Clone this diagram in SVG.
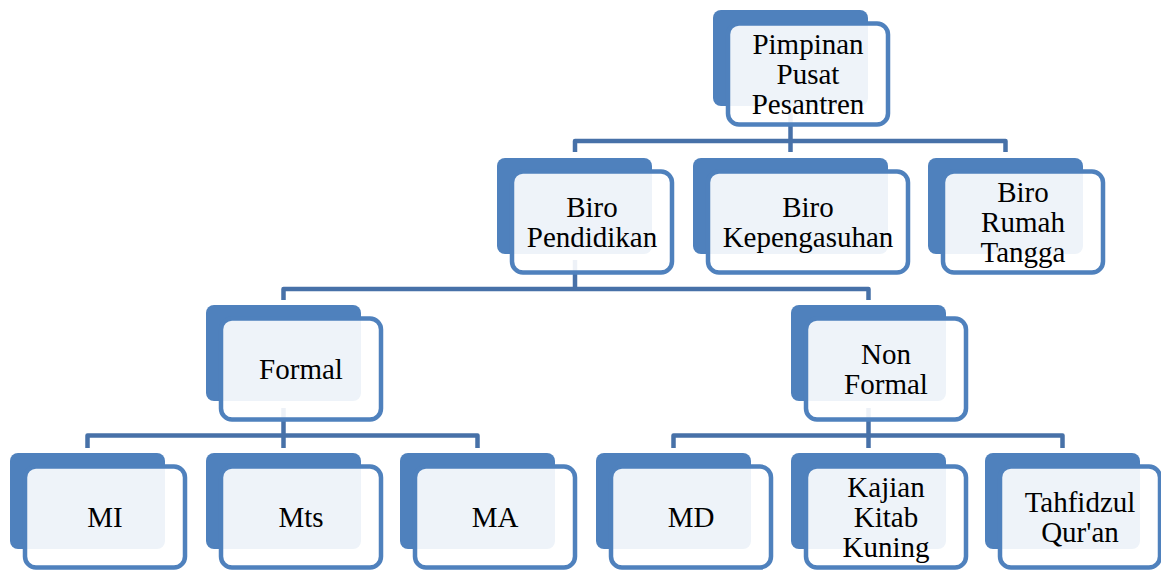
<svg xmlns="http://www.w3.org/2000/svg" width="1161" height="570" viewBox="0 0 1161 570" font-family="'Liberation Serif', 'Times New Roman', 'DejaVu Serif', serif">
<style>
.back{fill:#4F81BD;}
.front{fill:#FFFFFF;fill-opacity:0.9;stroke:#4F81BD;stroke-width:4.5;}
.conn{fill:none;stroke:#4771A8;stroke-width:4.5;stroke-linejoin:round;}
text{font-family:'Liberation Serif','Times New Roman','DejaVu Serif',serif;font-size:29px;fill:#000;text-anchor:middle;}
</style>
<rect width="1161" height="570" fill="#FFFFFF"/>
<g id="connectors">
<path class="conn" d="M790.5,113 V152"/>
<path class="conn" d="M575,152 V141 H1005.5 V152"/>
<path class="conn" d="M575,260 V289"/>
<path class="conn" d="M283.5,300 V289 H868.5 V300"/>
<path class="conn" d="M283.5,408 V448"/>
<path class="conn" d="M87.5,448 V435.5 H477.5 V448"/>
<path class="conn" d="M868.5,408 V448"/>
<path class="conn" d="M673.5,448 V435.5 H1062.5 V448"/>
</g>
<g id="pimpinan">
<rect class="back" x="713" y="10" width="155" height="96" rx="8"/>
<rect class="front" x="728" y="23.5" width="160" height="101" rx="11"/>
<text x="808" y="54">Pimpinan</text>
<text x="808" y="84">Pusat</text>
<text x="808" y="114">Pesantren</text>
</g>
<g id="biro-pendidikan">
<rect class="back" x="497" y="158" width="155" height="96" rx="8"/>
<rect class="front" x="512" y="171.5" width="160" height="101" rx="11"/>
<text x="592" y="217">Biro</text>
<text x="592" y="247">Pendidikan</text>
</g>
<g id="biro-kepengasuhan">
<rect class="back" x="693" y="158" width="195" height="96" rx="8"/>
<rect class="front" x="708" y="171.5" width="200" height="101" rx="11"/>
<text x="808" y="217">Biro</text>
<text x="808" y="247">Kepengasuhan</text>
</g>
<g id="biro-rumah-tangga">
<rect class="back" x="928" y="158" width="155" height="96" rx="8"/>
<rect class="front" x="943" y="171.5" width="160" height="101" rx="11"/>
<text x="1023" y="202">Biro</text>
<text x="1023" y="232">Rumah</text>
<text x="1023" y="262">Tangga</text>
</g>
<g id="formal">
<rect class="back" x="206" y="305" width="155" height="96" rx="8"/>
<rect class="front" x="221" y="318.5" width="160" height="101" rx="11"/>
<text x="301" y="379">Formal</text>
</g>
<g id="non-formal">
<rect class="back" x="791" y="305" width="155" height="96" rx="8"/>
<rect class="front" x="806" y="318.5" width="160" height="101" rx="11"/>
<text x="886" y="364">Non</text>
<text x="886" y="394">Formal</text>
</g>
<g id="mi">
<rect class="back" x="10" y="453" width="155" height="96" rx="8"/>
<rect class="front" x="25" y="466.5" width="160" height="101" rx="11"/>
<text x="105" y="527">MI</text>
</g>
<g id="mts">
<rect class="back" x="206" y="453" width="155" height="96" rx="8"/>
<rect class="front" x="221" y="466.5" width="160" height="101" rx="11"/>
<text x="301" y="527">Mts</text>
</g>
<g id="ma">
<rect class="back" x="400" y="453" width="155" height="96" rx="8"/>
<rect class="front" x="415" y="466.5" width="160" height="101" rx="11"/>
<text x="495" y="527">MA</text>
</g>
<g id="md">
<rect class="back" x="596" y="453" width="155" height="96" rx="8"/>
<rect class="front" x="611" y="466.5" width="160" height="101" rx="11"/>
<text x="691" y="527">MD</text>
</g>
<g id="kajian-kitab-kuning">
<rect class="back" x="791" y="453" width="155" height="96" rx="8"/>
<rect class="front" x="806" y="466.5" width="160" height="101" rx="11"/>
<text x="886" y="497">Kajian</text>
<text x="886" y="527">Kitab</text>
<text x="886" y="557">Kuning</text>
</g>
<g id="tahfidzul-quran">
<rect class="back" x="985" y="453" width="155" height="96" rx="8"/>
<rect class="front" x="1000" y="466.5" width="160" height="101" rx="11"/>
<text x="1080" y="512">Tahfidzul</text>
<text x="1080" y="542">Qur'an</text>
</g>
</svg>
